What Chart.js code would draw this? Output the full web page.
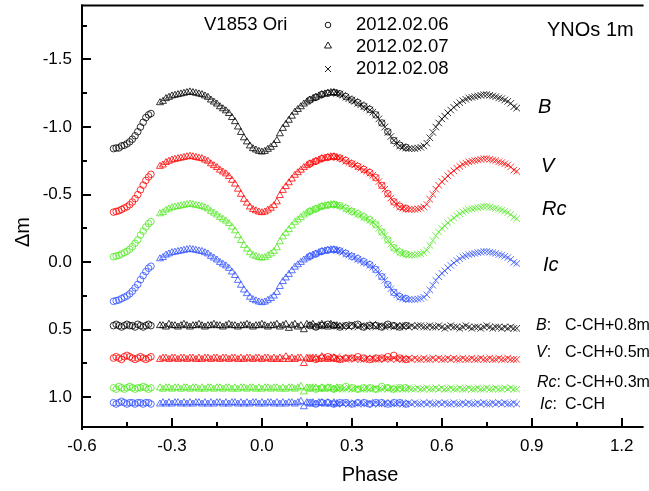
<!DOCTYPE html>
<html><head><meta charset="utf-8">
<script src="https://cdn.jsdelivr.net/npm/chart.js@4/dist/chart.umd.min.js"></script>
<style>html,body{margin:0;padding:0;background:#fff}#wrap{width:649px;height:491px;position:relative}</style>
</head><body><div id="wrap"><canvas id="c" width="649" height="491"></canvas></div>
<script>
const xTicks=[-0.6,-0.3,0.0,0.3,0.6,0.9,1.2];
const xMinor=[-0.45,-0.15,0.15,0.45,0.75,1.05];
const yTicks=[-1.5,-1.0,-0.5,0.0,0.5,1.0];
const yMinor=[-1.75,-1.25,-0.75,-0.25,0.25,0.75];
const nights=["2012.02.06","2012.02.07","2012.02.08"];

// phases: circles (2012.02.06), triangles (2012.02.07), crosses (2012.02.08)
const phC=[-0.495,-0.486,-0.477,-0.468,-0.459,-0.450,-0.441,-0.432,-0.423,-0.414,-0.405,-0.396,-0.387,-0.378,-0.370,
0.16,0.18,0.20,0.22,0.24,0.26,0.28,0.30,0.32,0.34,0.36,0.38,0.40,0.42,0.44,0.46,0.48];
const phT=[-0.34,-0.33,-0.32,-0.31,-0.30,-0.29,-0.28,-0.27,-0.26,-0.25,
-0.24,-0.23,-0.22,-0.21,-0.20,-0.19,-0.18,-0.17,-0.16,-0.15,
-0.14,-0.13,-0.12,-0.11,-0.10,-0.09,-0.08,-0.07,-0.06,-0.05,
-0.04,-0.03,-0.02,-0.01,0.00,0.01,0.02,0.03,0.04,0.05,
0.06,0.07,0.08,0.09,0.10,0.11,0.12,0.13,0.14,0.15,
0.16,0.17,0.18,0.19,0.20,0.21,0.22,0.23,0.24,0.25];
const phX=[0.25,0.26,0.27,0.28,0.29,0.30,0.31,0.32,0.33,0.34,
0.35,0.36,0.37,0.38,0.39,0.40,0.41,0.42,0.43,0.44,
0.45,0.46,0.47,0.48,0.49,0.50,0.51,0.52,0.53,0.54,
0.55,0.56,0.57,0.58,0.59,0.60,0.61,0.62,0.63,0.64,
0.65,0.66,0.67,0.68,0.69,0.70,0.71,0.72,0.73,0.74,
0.75,0.76,0.77,0.78,0.79,0.80,0.81,0.82,0.83,0.84,0.85];

// B light curve
const bC=[-0.84,-0.845,-0.845,-0.86,-0.865,-0.875,-0.89,-0.91,-0.935,-0.965,-1.00,-1.035,-1.07,-1.09,-1.10,
-1.20,-1.22,-1.24,-1.25,-1.255,-1.245,-1.225,-1.20,-1.18,-1.155,-1.13,-1.09,-1.03,-0.965,-0.90,-0.865,-0.85];
const bT=[-1.18,-1.19,-1.21,-1.22,-1.23,-1.235,-1.24,-1.245,-1.25,-1.255,
-1.26,-1.255,-1.25,-1.245,-1.24,-1.23,-1.22,-1.20,-1.185,-1.17,
-1.15,-1.135,-1.12,-1.10,-1.07,-1.04,-1.00,-0.96,-0.92,-0.89,
-0.86,-0.84,-0.83,-0.82,-0.815,-0.82,-0.835,-0.85,-0.87,-0.90,
-0.95,-0.99,-1.02,-1.05,-1.08,-1.11,-1.13,-1.15,-1.17,-1.185,
-1.20,-1.21,-1.22,-1.23,-1.24,-1.245,-1.25,-1.255,-1.255,-1.25];
const bX=[-1.25,-1.245,-1.235,-1.22,-1.21,-1.20,-1.19,-1.175,-1.165,-1.15,
-1.14,-1.125,-1.11,-1.09,-1.06,-1.03,-1.00,-0.96,-0.93,-0.90,
-0.88,-0.86,-0.85,-0.845,-0.84,-0.84,-0.84,-0.845,-0.85,-0.86,
-0.88,-0.92,-0.96,-1.00,-1.03,-1.06,-1.08,-1.105,-1.125,-1.145,
-1.165,-1.18,-1.195,-1.205,-1.215,-1.22,-1.225,-1.23,-1.235,-1.24,
-1.24,-1.235,-1.23,-1.225,-1.215,-1.21,-1.20,-1.19,-1.175,-1.15,-1.14];

// V light curve
const vC=[-0.37,-0.375,-0.38,-0.39,-0.40,-0.41,-0.425,-0.445,-0.47,-0.50,-0.535,-0.57,-0.605,-0.63,-0.65,
-0.728,-0.747,-0.766,-0.775,-0.780,-0.770,-0.752,-0.728,-0.709,-0.686,-0.662,-0.625,-0.568,-0.507,-0.446,-0.413,-0.399];
const vT=[-0.709,-0.719,-0.737,-0.747,-0.756,-0.761,-0.766,-0.770,-0.775,-0.780,
-0.784,-0.780,-0.775,-0.770,-0.766,-0.756,-0.747,-0.728,-0.714,-0.700,
-0.681,-0.667,-0.653,-0.634,-0.606,-0.578,-0.540,-0.502,-0.465,-0.437,
-0.408,-0.390,-0.380,-0.371,-0.366,-0.371,-0.385,-0.399,-0.418,-0.446,
-0.493,-0.531,-0.559,-0.587,-0.615,-0.643,-0.662,-0.681,-0.700,-0.714,
-0.728,-0.737,-0.747,-0.756,-0.766,-0.770,-0.775,-0.780,-0.780,-0.775];
const vX=[-0.775,-0.770,-0.761,-0.747,-0.737,-0.728,-0.719,-0.705,-0.695,-0.681,
-0.672,-0.658,-0.643,-0.625,-0.596,-0.568,-0.540,-0.502,-0.474,-0.446,
-0.427,-0.408,-0.399,-0.394,-0.390,-0.390,-0.390,-0.394,-0.399,-0.408,
-0.427,-0.465,-0.502,-0.540,-0.568,-0.596,-0.615,-0.639,-0.658,-0.676,
-0.695,-0.709,-0.723,-0.733,-0.742,-0.747,-0.752,-0.756,-0.761,-0.766,
-0.766,-0.761,-0.756,-0.752,-0.742,-0.737,-0.728,-0.719,-0.705,-0.681,-0.672];

// Rc light curve
const rC=[-0.04,-0.045,-0.05,-0.06,-0.07,-0.08,-0.095,-0.115,-0.14,-0.165,-0.20,-0.23,-0.26,-0.285,-0.30,
-0.376,-0.394,-0.412,-0.421,-0.426,-0.417,-0.399,-0.376,-0.358,-0.336,-0.313,-0.277,-0.223,-0.165,-0.106,-0.075,-0.061];
const rT=[-0.358,-0.367,-0.385,-0.394,-0.403,-0.408,-0.412,-0.417,-0.421,-0.426,
-0.430,-0.426,-0.421,-0.417,-0.412,-0.403,-0.394,-0.376,-0.363,-0.349,
-0.331,-0.318,-0.304,-0.286,-0.259,-0.232,-0.196,-0.160,-0.124,-0.097,
-0.070,-0.052,-0.043,-0.034,-0.030,-0.034,-0.048,-0.061,-0.079,-0.106,
-0.151,-0.187,-0.214,-0.241,-0.268,-0.295,-0.313,-0.331,-0.349,-0.363,
-0.376,-0.385,-0.394,-0.403,-0.412,-0.417,-0.421,-0.426,-0.426,-0.421];
const rX=[-0.421,-0.417,-0.408,-0.394,-0.385,-0.376,-0.367,-0.354,-0.345,-0.331,
-0.322,-0.309,-0.295,-0.277,-0.250,-0.223,-0.196,-0.160,-0.133,-0.106,
-0.088,-0.070,-0.061,-0.057,-0.052,-0.052,-0.052,-0.057,-0.061,-0.070,
-0.088,-0.124,-0.160,-0.196,-0.223,-0.250,-0.268,-0.291,-0.309,-0.327,
-0.345,-0.358,-0.372,-0.381,-0.390,-0.394,-0.399,-0.403,-0.408,-0.412,
-0.412,-0.408,-0.403,-0.399,-0.390,-0.385,-0.376,-0.367,-0.354,-0.331,-0.322];

// Ic light curve
const iC=[0.29,0.285,0.28,0.27,0.26,0.25,0.235,0.215,0.19,0.165,0.13,0.10,0.07,0.045,0.03,
-0.043,-0.061,-0.079,-0.088,-0.092,-0.083,-0.065,-0.043,-0.025,-0.003,0.019,0.055,0.108,0.166,0.224,0.255,0.269];
const iT=[-0.025,-0.034,-0.052,-0.061,-0.070,-0.074,-0.079,-0.083,-0.088,-0.092,
-0.096,-0.092,-0.088,-0.083,-0.079,-0.070,-0.061,-0.043,-0.030,-0.016,
0.002,0.015,0.028,0.046,0.073,0.099,0.135,0.171,0.206,0.233,
0.260,0.277,0.286,0.295,0.300,0.295,0.282,0.269,0.251,0.224,
0.180,0.144,0.117,0.091,0.064,0.037,0.019,0.002,-0.016,-0.030,
-0.043,-0.052,-0.061,-0.070,-0.079,-0.083,-0.088,-0.092,-0.092,-0.088];
const iX=[-0.088,-0.083,-0.074,-0.061,-0.052,-0.043,-0.034,-0.021,-0.012,0.002,
0.010,0.024,0.037,0.055,0.082,0.108,0.135,0.171,0.197,0.224,
0.242,0.260,0.269,0.273,0.277,0.277,0.277,0.273,0.269,0.260,
0.242,0.206,0.171,0.135,0.108,0.082,0.064,0.042,0.024,0.006,
-0.012,-0.025,-0.039,-0.047,-0.056,-0.061,-0.065,-0.070,-0.074,-0.079,
-0.079,-0.074,-0.070,-0.065,-0.056,-0.052,-0.043,-0.034,-0.021,0.002,0.010];

// comparison - check star (C-CH) with offsets
const bcC=[0.47,0.46,0.47,0.48,0.47,0.46,0.47,0.47,0.48,0.46,0.47,0.48,0.47,0.46,0.47,
0.47,0.48,0.47,0.46,0.47,0.48,0.47,0.47,0.46,0.48,0.47,0.47,0.48,0.46,0.47,0.48,0.47];
const bcT=[0.47,0.47,0.48,0.46,0.47,0.47,0.48,0.47,0.46,0.47,
0.48,0.47,0.47,0.46,0.47,0.48,0.47,0.47,0.46,0.47,
0.47,0.48,0.47,0.46,0.47,0.47,0.48,0.47,0.47,0.46,
0.47,0.48,0.47,0.47,0.46,0.47,0.48,0.47,0.47,0.46,
0.48,0.47,0.46,0.49,0.47,0.46,0.48,0.47,0.50,0.46,
0.47,0.46,0.48,0.47,0.46,0.47,0.48,0.46,0.47,0.47];
const bcX=[0.47,0.48,0.47,0.47,0.48,0.46,0.47,0.48,0.47,0.47,
0.48,0.47,0.46,0.48,0.47,0.47,0.48,0.47,0.47,0.48,
0.47,0.48,0.47,0.47,0.48,0.47,0.48,0.47,0.47,0.48,
0.48,0.47,0.48,0.48,0.47,0.48,0.49,0.48,0.47,0.48,
0.48,0.49,0.48,0.47,0.48,0.49,0.48,0.48,0.49,0.48,
0.47,0.48,0.49,0.48,0.48,0.49,0.48,0.49,0.48,0.49,0.49];
const vcC=[0.71,0.70,0.71,0.72,0.70,0.69,0.70,0.71,0.72,0.71,0.70,0.71,0.72,0.71,0.70,
0.71,0.72,0.71,0.70,0.71,0.72,0.71,0.71,0.70,0.71,0.72,0.71,0.71,0.70,0.69,0.71,0.72];
const vcT=[0.72,0.71,0.71,0.72,0.71,0.71,0.72,0.71,0.71,0.72,
0.71,0.71,0.72,0.71,0.72,0.71,0.71,0.72,0.71,0.71,
0.72,0.71,0.71,0.72,0.71,0.71,0.72,0.71,0.72,0.71,
0.71,0.72,0.71,0.71,0.72,0.71,0.71,0.72,0.71,0.72,
0.71,0.72,0.70,0.72,0.71,0.72,0.71,0.71,0.75,0.71,
0.72,0.71,0.71,0.72,0.70,0.71,0.72,0.71,0.71,0.72];
const vcX=[0.70,0.72,0.71,0.72,0.71,0.71,0.72,0.71,0.72,0.72,
0.71,0.72,0.71,0.72,0.72,0.71,0.72,0.71,0.72,0.71,
0.72,0.71,0.72,0.72,0.71,0.72,0.71,0.72,0.72,0.71,
0.72,0.72,0.71,0.72,0.71,0.72,0.72,0.71,0.72,0.71,
0.72,0.72,0.71,0.72,0.72,0.71,0.72,0.72,0.71,0.72,
0.72,0.71,0.72,0.72,0.71,0.72,0.72,0.71,0.72,0.72,0.72];
const rcC=[0.93,0.94,0.92,0.93,0.94,0.93,0.92,0.93,0.94,0.93,0.93,0.92,0.93,0.94,0.93,
0.93,0.94,0.93,0.93,0.94,0.93,0.92,0.93,0.94,0.93,0.93,0.94,0.92,0.93,0.94,0.93,0.93];
const rcT=[0.93,0.94,0.93,0.93,0.94,0.93,0.93,0.94,0.93,0.93,
0.94,0.93,0.93,0.94,0.93,0.94,0.93,0.93,0.94,0.93,
0.93,0.94,0.93,0.93,0.94,0.93,0.94,0.93,0.93,0.94,
0.93,0.93,0.94,0.93,0.94,0.93,0.93,0.94,0.93,0.93,
0.94,0.93,0.94,0.93,0.93,0.94,0.93,0.92,0.96,0.93,
0.94,0.93,0.93,0.94,0.93,0.94,0.93,0.93,0.94,0.93];
const rcX=[0.94,0.93,0.94,0.94,0.93,0.94,0.94,0.93,0.94,0.94,
0.93,0.94,0.94,0.93,0.94,0.94,0.93,0.94,0.93,0.94,
0.94,0.93,0.94,0.94,0.93,0.94,0.94,0.93,0.94,0.94,
0.93,0.94,0.94,0.93,0.94,0.93,0.94,0.94,0.93,0.94,
0.94,0.93,0.94,0.94,0.93,0.94,0.94,0.93,0.94,0.94,
0.93,0.94,0.94,0.93,0.94,0.94,0.93,0.94,0.93,0.94,0.94];
const icC=[1.04,1.05,1.04,1.03,1.04,1.05,1.04,1.04,1.05,1.04,1.04,1.05,1.04,1.04,1.05,
1.04,1.05,1.04,1.04,1.05,1.04,1.04,1.05,1.04,1.04,1.05,1.04,1.04,1.05,1.04,1.04,1.05];
const icT=[1.05,1.04,1.05,1.04,1.05,1.04,1.04,1.05,1.04,1.05,
1.04,1.05,1.04,1.04,1.05,1.04,1.05,1.04,1.05,1.04,
1.04,1.05,1.04,1.05,1.04,1.04,1.05,1.04,1.05,1.04,
1.05,1.04,1.04,1.05,1.04,1.05,1.04,1.04,1.05,1.04,
1.05,1.04,1.05,1.04,1.04,1.05,1.04,1.03,1.07,1.04,
1.05,1.04,1.05,1.04,1.04,1.05,1.04,1.05,1.04,1.05];
const icX=[1.05,1.04,1.05,1.04,1.05,1.05,1.04,1.05,1.04,1.05,
1.05,1.04,1.05,1.04,1.05,1.05,1.04,1.05,1.04,1.05,
1.05,1.04,1.05,1.05,1.04,1.05,1.04,1.05,1.05,1.04,
1.05,1.04,1.05,1.05,1.04,1.05,1.04,1.05,1.05,1.04,
1.05,1.05,1.04,1.05,1.04,1.05,1.05,1.04,1.05,1.04,
1.05,1.05,1.04,1.05,1.04,1.05,1.04,1.05,1.05,1.04,1.05];

const FONT='"Liberation Sans", Arial, sans-serif';
const COL={B:'#000000',V:'#ff0000',Rc:'#4fe81f',Ic:'#2f4fff'};
function pts(xs,ys){return xs.map((x,i)=>({x:x,y:ys[i]}));}
function ds(label,xs,ys,color,style){
  const r=style==='circle'?3.3:(style==='triangle'?4:4.6);
  return {label:label,data:pts(xs,ys),showLine:false,pointStyle:style,pointRadius:r,pointHoverRadius:r,
    pointBorderWidth:0.8,borderColor:color,backgroundColor:'rgba(0,0,0,0)'};
}
const bands=[['B',bC,bT,bX,bcC,bcT,bcX],['V',vC,vT,vX,vcC,vcT,vcX],['Rc',rC,rT,rX,rcC,rcT,rcX],['Ic',iC,iT,iX,icC,icT,icX]];
const datasets=[];
bands.forEach(b=>{
  const c=COL[b[0]];
  datasets.push(ds(b[0]+' '+nights[0],phC,b[1],c,'circle'));
  datasets.push(ds(b[0]+' '+nights[1],phT,b[2],c,'triangle'));
  datasets.push(ds(b[0]+' '+nights[2],phX,b[3],c,'crossRot'));
  datasets.push(ds(b[0]+' C-CH '+nights[0],phC,b[4],c,'circle'));
  datasets.push(ds(b[0]+' C-CH '+nights[1],phT,b[5],c,'triangle'));
  datasets.push(ds(b[0]+' C-CH '+nights[2],phX,b[6],c,'crossRot'));
});
function fmt(v){return (Math.abs(v)<1e-9?0:v).toFixed(1);}

const deco={id:'deco',afterDraw(chart){
  const ctx=chart.ctx,a=chart.chartArea,xs=chart.scales.x,ys=chart.scales.y;
  ctx.save();
  ctx.strokeStyle='#000';ctx.lineWidth=2;ctx.lineCap='butt';
  function ln(x1,y1,x2,y2){ctx.beginPath();ctx.moveTo(x1,y1);ctx.lineTo(x2,y2);ctx.stroke();}
  ln(a.left,a.top-1,a.left,a.bottom+3);
  ln(a.left-1,a.bottom,a.right,a.bottom);
  ln(a.left-1,a.top,a.right,a.top);
  xTicks.forEach(v=>{const p=Math.round(xs.getPixelForValue(v));ln(p,a.bottom,p,a.bottom-9);});
  xMinor.forEach(v=>{const p=Math.round(xs.getPixelForValue(v));ln(p,a.bottom,p,a.bottom-5);});
  yTicks.forEach(v=>{const p=Math.round(ys.getPixelForValue(v));ln(a.left,p,a.left+9,p);});
  yMinor.forEach(v=>{const p=Math.round(ys.getPixelForValue(v));ln(a.left,p,a.left+5,p);});
  ctx.fillStyle='#000';ctx.textBaseline='middle';ctx.textAlign='left';
  ctx.font='18.5px '+FONT;
  ctx.fillText('V1853 Ori',204,25);
  nights.forEach((n,i)=>ctx.fillText(n,356,[25,47,69][i]));
  ctx.font='20px '+FONT;
  ctx.fillText('YNOs 1m',547,30);
  // legend symbols
  ctx.lineWidth=0.9;
  ctx.beginPath();ctx.arc(328,25,2.8,0,Math.PI*2);ctx.stroke();
  ctx.beginPath();ctx.moveTo(328,42);ctx.lineTo(331.5,48);ctx.lineTo(324.5,48);ctx.closePath();ctx.stroke();
  ln(325,66,331,72);ln(331,66,325,72);
  // band labels
  ctx.font='italic 20px '+FONT;
  ctx.fillText('B',538,107);ctx.fillText('V',541,166);ctx.fillText('Rc',542,209);ctx.fillText('Ic',543,265);
  const cl=[['B','C-CH+0.8m',536,326],['V','C-CH+0.5m',536,353],['Rc','C-CH+0.3m',537,383],['Ic','C-CH',540,405]];
  cl.forEach(c=>{
    ctx.font='italic 16px '+FONT;ctx.fillText(c[0],c[2],c[3]);
    const w=ctx.measureText(c[0]).width;
    ctx.font='16px '+FONT;ctx.fillText(':',c[2]+w,c[3]);
    ctx.fillText(c[1],565,c[3]);
  });
  ctx.font='20px '+FONT;ctx.textAlign='center';
  ctx.fillText('Phase',370,475);
  ctx.translate(23,232);ctx.rotate(-Math.PI/2);ctx.fillText('\u0394m',0,0);
  ctx.restore();
}};

new Chart(document.getElementById('c'),{
  type:'scatter',
  data:{datasets:datasets},
  options:{
    responsive:false,animation:false,devicePixelRatio:1,
    layout:{padding:{top:5,right:0,bottom:0,left:0}},
    plugins:{legend:{display:false},tooltip:{enabled:false}},
    scales:{
      x:{type:'linear',min:-0.6,max:1.273,
        afterBuildTicks:s=>{s.ticks=xTicks.map(v=>({value:v}));},
        afterFit:s=>{s.height=64;s.paddingLeft=0;s.paddingRight=0;},
        grid:{display:false,drawTicks:false},border:{display:false},
        ticks:{color:'#000',font:{family:FONT,size:17},padding:9,maxRotation:0,autoSkip:false,callback:v=>fmt(v)}},
      y:{type:'linear',reverse:true,min:-1.9,max:1.22,
        afterBuildTicks:s=>{s.ticks=yTicks.map(v=>({value:v}));},
        afterFit:s=>{s.width=82;s.paddingTop=0;s.paddingBottom=0;},
        grid:{display:false,drawTicks:false},border:{display:false},
        ticks:{color:'#000',font:{family:FONT,size:17},padding:10,autoSkip:false,callback:v=>fmt(v)}}
    }
  },
  plugins:[deco]
});
</script></body></html>
